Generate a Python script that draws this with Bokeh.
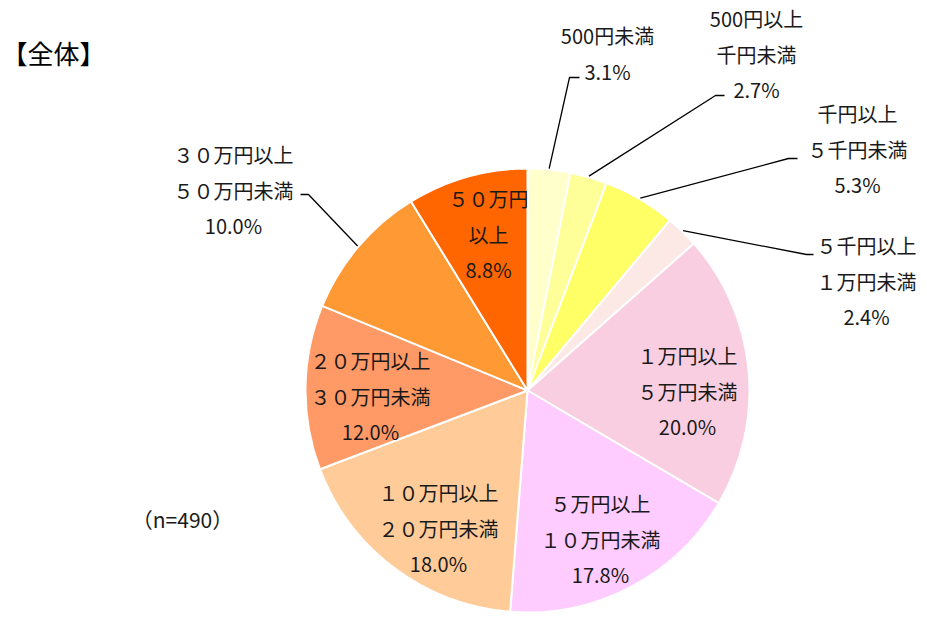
import math
from bokeh.plotting import figure
from bokeh.models import Range1d
from bokeh.core.properties import value
from bokeh.embed import file_html
from bokeh.resources import INLINE

# ---- data ----
categories = [
    "500円未満",
    "500円以上\n千円未満",
    "千円以上\n５千円未満",
    "５千円以上\n１万円未満",
    "１万円以上\n５万円未満",
    "５万円以上\n１０万円未満",
    "１０万円以上\n２０万円未満",
    "２０万円以上\n３０万円未満",
    "３０万円以上\n５０万円未満",
    "５０万円\n以上",
]
shares = [3.1, 2.7, 5.3, 2.4, 20.0, 17.8, 18.0, 12.0, 10.0, 8.8]
colors = ["#FFFFCC", "#FFFF99", "#FFFF66", "#FCE9E6", "#F9CEE1",
          "#FFCCFF", "#FFCC99", "#FF9966", "#FF9933", "#FF6600"]
title_text = "【全体】"
n_text = "（n=490）"

# ---- layout (screen pixel coords, origin top-left) ----
W, H = 919, 612
CX, CY, R = 527, 390, 222
FONT = value("Noto Sans CJK JP")
LINE_GAP = 35.5
# label centre x, first-line y
label_pos = [(607, 35), (756, 18), (857, 113), (866, 245), (687, 355),
             (600, 503), (438, 492), (370, 360), (233, 154), (488, 198)]
# leader elbows: index -> (elbow, end)
leaders = {0: ((569, 77), (579, 77)),
           1: ((715, 95), (724, 95)),
           2: ((788, 158), (797, 158)),
           3: ((806, 254), (813, 254)),
           8: ((308, 194), (300, 194))}

TOP = 620


def Y(py):
    return TOP - py


p = figure(width=W, height=H, output_backend="svg", toolbar_location=None,
           x_range=Range1d(0, W), y_range=Range1d(TOP - H, TOP),
           x_axis_type=None, y_axis_type=None, min_border=0)
p.grid.visible = False
p.outline_line_color = None
p.background_fill_color = "white"

total = sum(shares)
cum = 0.0
starts, ends, mids = [], [], []
for s in shares:
    a0 = math.pi / 2 - 2 * math.pi * (cum + s) / total
    a1 = math.pi / 2 - 2 * math.pi * cum / total
    starts.append(a0)
    ends.append(a1)
    mids.append((a0 + a1) / 2)
    cum += s

p.wedge(x=[CX] * len(shares), y=[Y(CY)] * len(shares), radius=R,
        start_angle=starts, end_angle=ends, fill_color=colors,
        line_color="white", line_width=2)

# leader lines
for i, ((ex, ey), (tx, ty)) in leaders.items():
    sx = CX + (R + 1) * math.cos(mids[i])
    sy = Y(CY) + (R + 1) * math.sin(mids[i])
    p.line([sx, ex, tx], [sy, Y(ey), Y(ty)], line_color="#000000", line_width=1.3)

# labels
xs, ys, ts = [], [], []
for i, cat in enumerate(categories):
    lines = cat.split("\n") + [f"{shares[i]:.1f}%"]
    lx, ly = label_pos[i]
    for k, t in enumerate(lines):
        xs.append(lx)
        ys.append(Y(ly + k * LINE_GAP))
        ts.append(t)
p.text(x=xs, y=ys, text=ts, text_align="center", text_baseline="middle",
       text_font=FONT, text_font_size="20px", text_color="#1a1a1a")

p.text(x=[1], y=[Y(52)], text=[title_text], text_align="left",
       text_baseline="middle", text_font=FONT, text_font_size="26px",
       text_color="#000000")
p.text(x=[182], y=[Y(518)], text=[n_text], text_align="center",
       text_baseline="middle", text_font=FONT, text_font_size="21px",
       text_color="#1a1a1a")

open("out.html", "w").write(file_html(p, INLINE))
